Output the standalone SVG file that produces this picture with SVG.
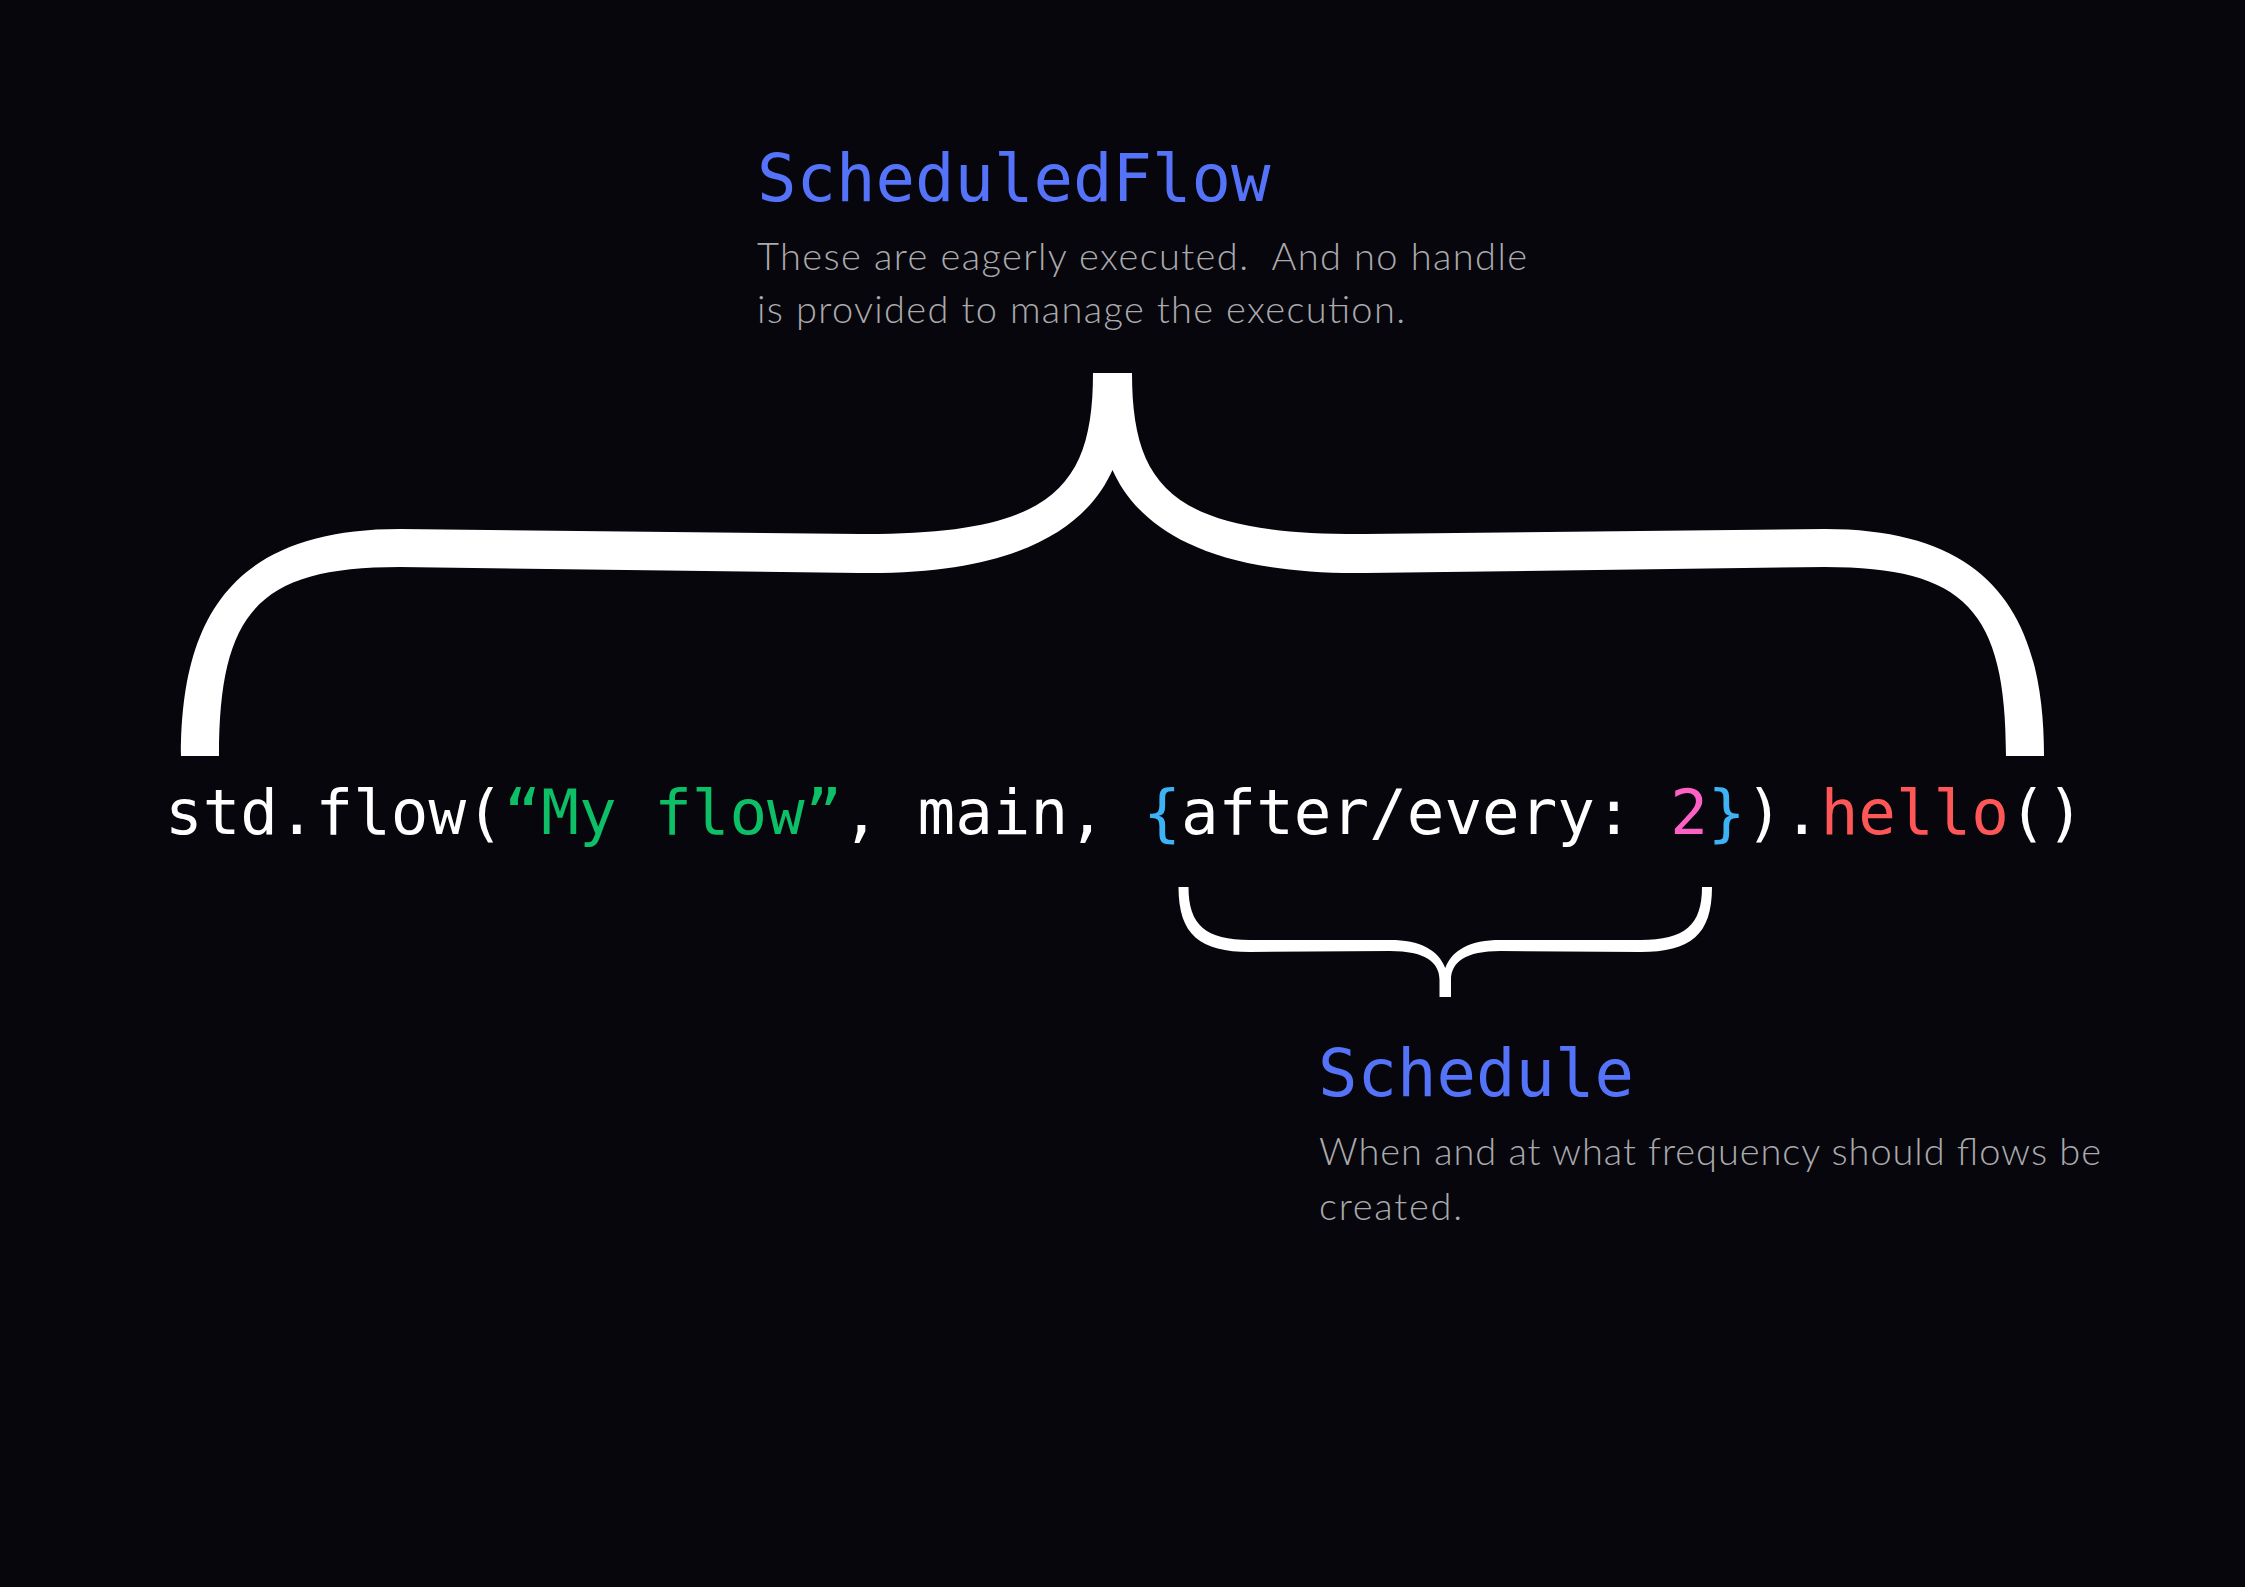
<svg xmlns="http://www.w3.org/2000/svg" width="2245" height="1587" viewBox="0 0 2245 1587">
<style>
.bg{fill:#07060c}
.title{font-family:"DejaVu Sans Mono","Liberation Mono",monospace;font-size:65.6px;fill:#5573f8}
.desc{font-family:Lato,"Noto Sans","Liberation Sans",sans-serif;font-weight:300;font-size:38px;fill:#aaaaac;white-space:pre}
.code{font-family:"DejaVu Sans Mono","Liberation Mono",monospace;font-size:62.5px;fill:#ffffff;white-space:pre}
.str{fill:#0dbf66}
.brc{fill:#3db3f6}
.num{fill:#ff60c6}
.fn{fill:#ff5757}
.brace{fill:#ffffff}
</style>
<rect class="bg" x="0" y="0" width="2245" height="1587"/>
<g id="connectors">
<path id="big-brace" class="brace" d="M181,756 C181,620 230,529 400,529 L860,534 C1050,535 1093,490 1093,373 L1132,373 C1132,490 1175,535 1365,534 L1825,529 C1995,529 2044,620 2044,756 L2006,756 C2006,610 1965,567 1825,567 L1365,573 C1195,575 1135,520 1112.5,470 C1090,520 1030,575 860,573 L400,567 C260,567 219,610 219,756 Z"/>
<path id="small-brace" class="brace" d="M1178.5,887 C1178.5,935 1200,952 1250,952 L1390,951 C1425,951 1439.5,962 1439.5,980 L1439.5,997 L1451,997 L1451,980 C1451,962 1465.5,951 1500.5,951 L1640.5,952 C1690.5,952 1712,935 1712,887 L1702,887 C1702,925 1685,940 1640.5,940 L1500.5,940 C1470,940 1452,950 1445.25,968 C1438.5,950 1420,940 1390,940 L1250,940 C1205.5,940 1188.5,925 1188.5,887 Z"/>
</g>
<g id="node-scheduledflow">
<text class="title" x="757" y="201">ScheduledFlow</text>
<text class="desc" x="757" y="270" textLength="770" lengthAdjust="spacing">These are eagerly executed.  And no handle</text>
<text class="desc" x="757" y="323" textLength="648" lengthAdjust="spacing">is provided to manage the execution.</text>
</g>
<g id="node-code">
<text class="code" x="165" y="834">std.flow(<tspan class="str">“My flow”</tspan>, main, <tspan class="brc">{</tspan>after/every: <tspan class="num">2</tspan><tspan class="brc">}</tspan>).<tspan class="fn">hello</tspan>()</text>
</g>
<g id="node-schedule">
<text class="title" x="1318" y="1096">Schedule</text>
<text class="desc" x="1319" y="1165" textLength="782" lengthAdjust="spacing">When and at what frequency should flows be</text>
<text class="desc" x="1319" y="1220" textLength="143" lengthAdjust="spacing">created.</text>
</g>
</svg>
